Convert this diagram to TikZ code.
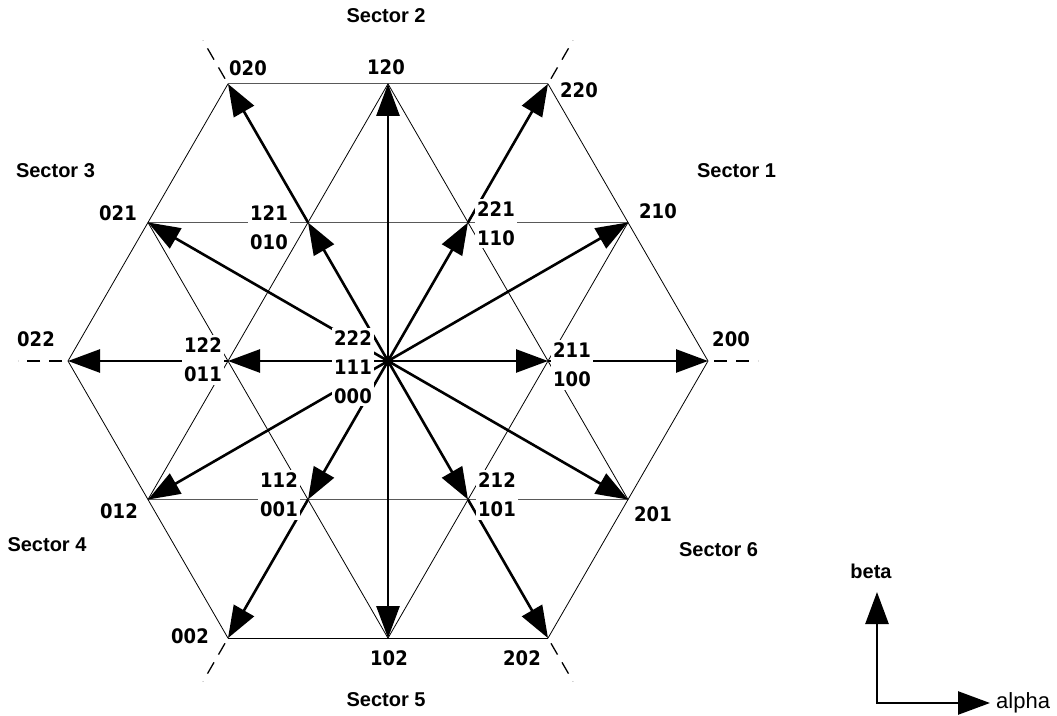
\documentclass[tikz,border=0pt]{standalone}
\usepackage{fontspec}
\setmainfont{Liberation Sans}
\newfontfamily\numfont{DejaVu Sans Condensed}
\usetikzlibrary{arrows.meta,calc}
\begin{document}
\begin{tikzpicture}[x=1pt,y=1pt,
  gridline/.style={line width=0.8pt,black},
  gridh/.style={line width=1.1pt,black!65},
  vec/.style={line width=2.6pt,-{Triangle[length=32pt,width=23pt]}},
  ext/.style={line width=1.3pt,dash pattern=on 13pt off 9pt},
  lab/.style={font=\numfont\bfseries\fontsize{20}{29}\selectfont,fill=white,inner sep=2.5pt,align=center},
  sec/.style={font=\bfseries\fontsize{20}{24}\selectfont,inner sep=0pt},
]
\useasboundingbox (0,0) rectangle (1057,715);
\coordinate (O) at (388,354);
\foreach \n/\a in {200/0,220/60,020/120,022/180,002/240,202/300}
  \coordinate (v\n) at ($(O)+(\a:320)$);
\foreach \n/\a in {210/30,120/90,021/150,012/210,102/270,201/330}
  \coordinate (m\n) at ($(O)+(\a:277.13)$);
\foreach \n/\a in {211/0,221/60,121/120,122/180,112/240,212/300}
  \coordinate (i\n) at ($(O)+(\a:160)$);

% thin grid
\draw[gridline] (v200)--(v220) (v020)--(v022)--(v002) (v202)--(v200);
\draw[gridline] (v002)--(v202);
\draw[gridh] (v220)--(v020);
\draw[gridh] (m021)--(m210);
\draw[gridh] (m012)--(m201);
\draw[gridline] (m120)--(m012);
\draw[gridline] (m120)--(m201);
\draw[gridline] (m021)--(m102);
\draw[gridline] (m210)--(m102);

% dashed extensions
\foreach \a in {0,60,120,180,240,300}
  \draw[ext] ($(O)+(\a:326)$) -- ($(O)+(\a:370)$);

% vectors
\foreach \p in {i211,i221,i121,i122,i112,i212,m210,m120,m021,m012,m102,m201}
  \draw[vec] (O) -- (\p);
\draw[vec] (i211)--(v200);
\draw[vec] (i221)--(v220);
\draw[vec] (i121)--(v020);
\draw[vec] (i122)--(v022);
\draw[vec] (i112)--(v002);
\draw[vec] (i212)--(v202);

% labels
\node[lab] (l020) at (248,646.5) {020};
\node[lab] (l120) at (386,648) {120};
\node[lab] (l220) at (579,625) {220};
\node[lab] (l021) at (118,502) {021};
\node[lab] (l121) at (269,487.5) {121\\010};
\node[lab] (l221) at (496,491.5) {221\\110};
\node[lab] (l210) at (658,504) {210};
\node[lab] (l022) at (36,376) {022};
\node[lab] (l122) at (203,355) {122\\011};
\node[lab] (l000) at (353,348) {222\\111\\000};
\node[lab] (l211) at (572,350) {211\\100};
\node[lab] (l200) at (731,376) {200};
\node[lab] (l112) at (279,220) {112\\001};
\node[lab] (l012) at (119,204) {012};
\node[lab] (l212) at (497,220) {212\\101};
\node[lab] (l201) at (653,201) {201};
\node[lab] (l002) at (190,78.5) {002};
\node[lab] (l102) at (389,57) {102};
\node[lab] (l202) at (522,57) {202};

\node[sec] (s1) at (736.5,544) {Sector 1};
\node[sec] (s2) at (386,699) {Sector 2};
\node[sec] (s3) at (55.5,544) {Sector 3};
\node[sec] (s4) at (47,170) {Sector 4};
\node[sec] (s5) at (386,15.5) {Sector 5};
\node[sec] (s6) at (718.5,165) {Sector 6};

% axes
\coordinate (ax0) at (877,12);
\coordinate (axb) at (877,123);
\coordinate (axa) at (990,12);
\draw[line width=2.6pt,{Triangle[length=32pt,width=23pt]}-{Triangle[length=32pt,width=23pt]}] (axb)--(ax0)--(axa);
\node[sec] (beta) at (871,144) {beta};
\node[font=\fontsize{22}{26}\selectfont,anchor=base west,inner sep=0pt] (alpha) at (996,7) {alpha};
\end{tikzpicture}
\end{document}
